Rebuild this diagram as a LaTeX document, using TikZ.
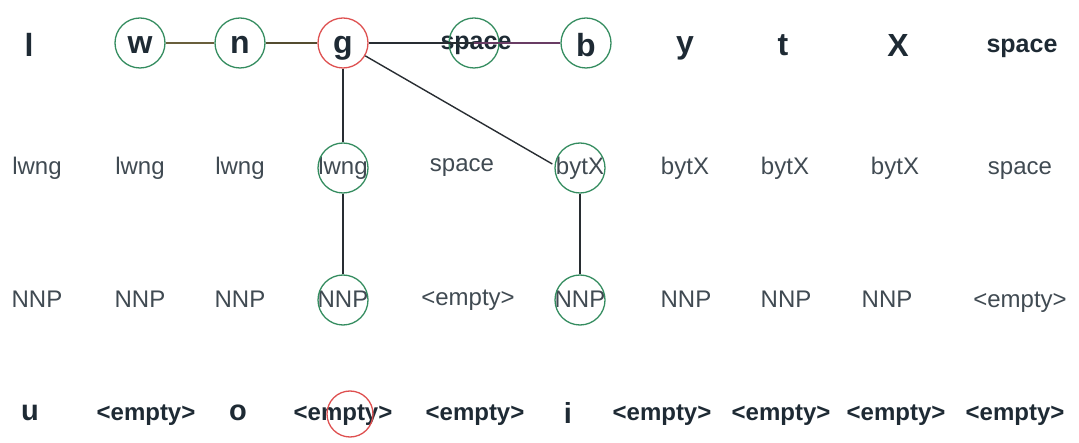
\documentclass[tikz,border=0pt]{standalone}
\usepackage{fontspec}
\setmainfont{Liberation Sans}
\definecolor{txt}{RGB}{30,42,52}
\definecolor{ringgreen}{RGB}{52,140,95}
\definecolor{ringred}{RGB}{222,80,80}
\definecolor{olive}{RGB}{105,95,60}
\definecolor{plum}{RGB}{105,60,100}
\definecolor{edgedark}{RGB}{40,45,50}
\begin{document}
\begin{tikzpicture}[x=1bp,y=-1bp,
  rowa/.style={text=txt,inner sep=0pt,font=\fontsize{32bp}{36bp}\selectfont\bfseries},
  rowaw/.style={text=txt,inner sep=0pt,font=\fontsize{25bp}{30bp}\selectfont\bfseries},
  rowb/.style={text=txt!85,inner sep=0pt,font=\fontsize{24bp}{28bp}\selectfont},
  rowd/.style={text=txt,inner sep=0pt,font=\fontsize{24bp}{28bp}\selectfont\bfseries},
  rowdl/.style={text=txt,inner sep=0pt,font=\fontsize{29bp}{33bp}\selectfont\bfseries},
  ring/.style={circle,draw=ringgreen,line width=1.3bp,minimum size=50bp,inner sep=0pt},
  redring/.style={circle,draw=ringred,line width=1.3bp,minimum size=50bp,inner sep=0pt},
  link/.style={draw=edgedark,line width=1.4bp}]
\useasboundingbox (0,0) rectangle (1079,443);
% row 1
\node[rowa] (a1) at (29,45) {l};
\node[rowa] (a2) at (140,45) {w};
\node[rowa] (a3) at (240,45) {n};
\node[rowa] (a4) at (343,48) {g};
\node[rowaw] (a5) at (476,45) {space};
\node[rowa] (a6) at (586,45) {b};
\node[rowa] (a7) at (685,48) {y};
\node[rowa] (a8) at (783,45) {t};
\node[rowa] (a9) at (898,45) {X};
\node[rowaw] (a10) at (1022,48) {space};
% row 2
\node[rowb] (b1) at (37,168) {lwng};
\node[rowb] (b2) at (140,168) {lwng};
\node[rowb] (b3) at (240,168) {lwng};
\node[rowb] (b4) at (343,168) {lwng};
\node[rowb] (b5) at (462,168) {space};
\node[rowb] (b6) at (580,168) {bytX};
\node[rowb] (b7) at (685,168) {bytX};
\node[rowb] (b8) at (785,168) {bytX};
\node[rowb] (b9) at (895,168) {bytX};
\node[rowb] (b10) at (1020,171) {space};
% row 3
\node[rowb] (c1) at (37,299) {NNP};
\node[rowb] (c2) at (140,299) {NNP};
\node[rowb] (c3) at (240,299) {NNP};
\node[rowb] (c4) at (343,299) {NNP};
\node[rowb] (c5) at (468,300) {<empty>};
\node[rowb] (c6) at (580,299) {NNP};
\node[rowb] (c7) at (686,299) {NNP};
\node[rowb] (c8) at (786,299) {NNP};
\node[rowb] (c9) at (887,299) {NNP};
\node[rowb] (c10) at (1020,302) {<empty>};
% row 4
\node[rowdl] (d1) at (30,413) {u};
\node[rowd] (d2) at (146,415) {<empty>};
\node[rowdl] (d3) at (238,413) {o};
\node[rowd] (d4) at (343,415) {<empty>};
\node[rowd] (d5) at (475,415) {<empty>};
\node[rowdl] (d6) at (568,413) {i};
\node[rowd] (d7) at (662,415) {<empty>};
\node[rowd] (d8) at (781,415) {<empty>};
\node[rowd] (d9) at (896,415) {<empty>};
\node[rowd] (d10) at (1015,415) {<empty>};
% rings
\node[ring] (rw) at (140,43) {};
\node[ring] (rn) at (240,43) {};
\node[redring] (rg) at (343,43) {};
\node[ring] (rsp) at (474,43) {};
\node[ring] (rb) at (586,43) {};
\node[ring] (rlw) at (343,168) {};
\node[ring] (rby) at (580,168) {};
\node[ring] (rn1) at (343,300) {};
\node[ring] (rn2) at (580,300) {};
\node[redring,minimum size=46bp] (re) at (350,414) {};
% links
\draw[link,draw=olive] (rw) -- (rn);
\draw[link,draw=olive!80!black] (rn) -- (rg);
\draw[link] (rg) -- (rsp.center);
\draw[link,draw=plum] (rsp.center) -- (rb);
\draw[link] (rg) -- (rlw);
\draw[link] (rlw) -- (rn1);
\draw[link,shorten >=32bp] (rg) -- ([yshift=-12bp]rby.center);
\draw[link] (rby) -- (rn2);
\end{tikzpicture}
\end{document}
